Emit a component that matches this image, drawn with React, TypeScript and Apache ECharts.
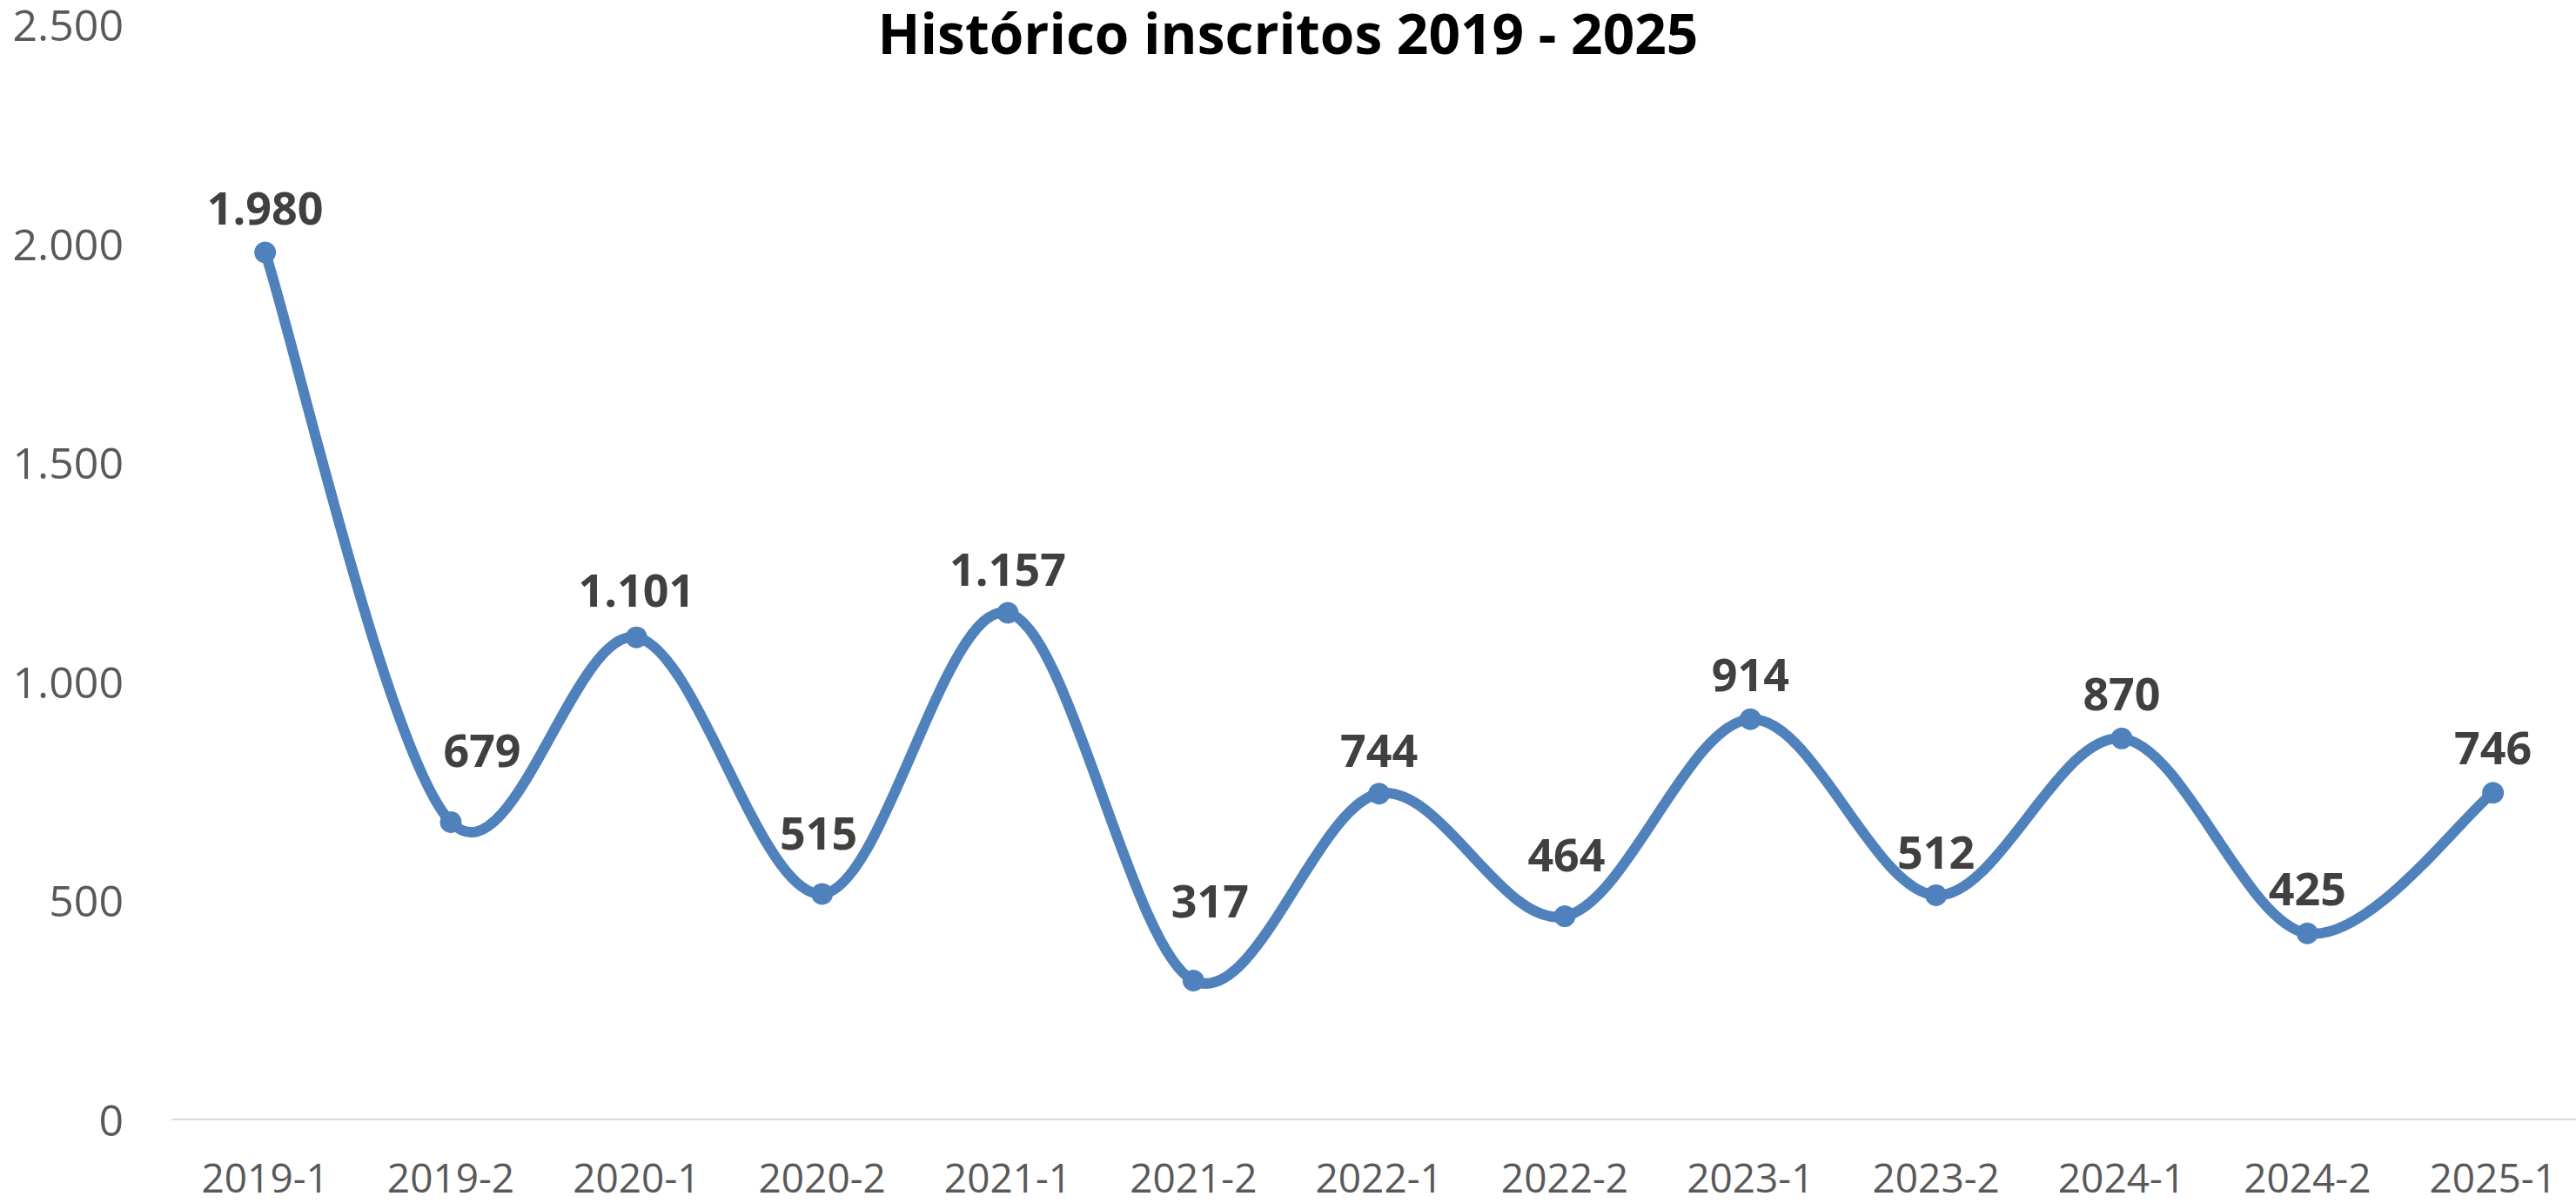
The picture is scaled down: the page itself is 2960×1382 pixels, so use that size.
import React, { useEffect, useRef } from "react";
import * as echarts from "echarts";

const title = "Histórico inscritos 2019 - 2025";
const categories = [
  "2019-1", "2019-2", "2020-1", "2020-2", "2021-1", "2021-2", "2022-1",
  "2022-2", "2023-1", "2023-2", "2024-1", "2024-2", "2025-1",
];
const inscritos = [1980, 679, 1101, 515, 1157, 317, 744, 464, 914, 512, 870, 425, 746];
const yTicks = { min: 0, max: 2500, interval: 500 };

// label placement tweaks (styling only), [dx, dy] relative to each point
const labelOffsets: [number, number][] = [
  [0, -52], [36, -84], [0, -56], [-4, -71], [0, -51], [19, -93], [0, -51],
  [2, -72], [0, -53], [0, -51], [0, -53], [0, -53], [0, -53],
];

const fmt = (v: number) => String(Math.round(v)).replace(/\B(?=(\d{3})+(?!\d))/g, ".");

const LINE_COLOR = "#4f81bd";

export default function App() {
  const ref = useRef<HTMLDivElement>(null);
  useEffect(() => {
    document.body.style.margin = "0";
    document.body.style.overflow = "hidden";
    const chart = echarts.init(ref.current!, null, { renderer: "svg" });
    const font = "'Open Sans', 'Noto Sans', sans-serif";
    const n = inscritos.length;
    chart.setOption({
      animation: false,
      backgroundColor: "#ffffff",
      title: {
        text: title,
        left: "center",
        top: 0,
        textStyle: { fontFamily: font, fontWeight: "bold", fontSize: 64, color: "#000000" },
      },
      grid: { left: 210, width: 2773.3, top: 28.4, bottom: 96, containLabel: false },
      xAxis: {
        type: "category",
        data: categories,
        boundaryGap: true,
        axisLine: { show: true, lineStyle: { color: "#d9d9d9", width: 2 } },
        axisTick: { show: false },
        axisLabel: { fontFamily: font, fontSize: 46, color: "#595959", margin: 43, interval: 0 },
        splitLine: { show: false },
      },
      yAxis: {
        type: "value",
        min: yTicks.min,
        max: yTicks.max,
        interval: yTicks.interval,
        axisLine: { show: false },
        axisTick: { show: false },
        splitLine: { show: false },
        axisLabel: {
          fontFamily: font,
          fontSize: 50,
          color: "#595959",
          margin: 56,
          formatter: (v: number) => fmt(v),
        },
      },
      series: [
        {
          type: "custom",
          data: inscritos.map((v, i) => [i, v]),
          encode: { x: 0, y: 1 },
          z: 1,
          clip: false,
          renderItem: (params: any, api: any) => {
            const i = params.dataIndex;
            if (i >= n - 1) return null;
            const pt = (k: number) => {
              const kk = Math.max(0, Math.min(n - 1, k));
              return api.coord([kk, inscritos[kk]]);
            };
            const p0 = pt(i - 1);
            const p1 = pt(i);
            const p2 = pt(i + 1);
            const p3 = pt(i + 2);
            const f = 1 / 6;
            return {
              type: "bezierCurve",
              shape: {
                x1: p1[0],
                y1: p1[1],
                cpx1: p1[0] + (p2[0] - p0[0]) * f,
                cpy1: p1[1] + (p2[1] - p0[1]) * f,
                cpx2: p2[0] - (p3[0] - p1[0]) * f,
                cpy2: p2[1] - (p3[1] - p1[1]) * f,
                x2: p2[0],
                y2: p2[1],
              },
              style: { stroke: LINE_COLOR, lineWidth: 12, fill: null, lineCap: "round" },
            };
          },
        },
        {
          type: "line",
          z: 3,
          data: inscritos.map((v, i) => ({
            value: v,
            label: { offset: labelOffsets[i] },
          })),
          symbol: "circle",
          symbolSize: 25,
          itemStyle: { color: LINE_COLOR },
          lineStyle: { width: 0, opacity: 0 },
          label: {
            show: true,
            position: "inside",
            verticalAlign: "middle",
            align: "center",
            fontFamily: font,
            fontWeight: "bold",
            fontSize: 52,
            color: "#404040",
            formatter: (p: any) => fmt(p.value),
          },
          clip: false,
        },
      ],
    });
    return () => chart.dispose();
  }, []);
  return (
    <div
      style={{ position: "fixed", left: 0, top: 0, width: 2960, height: 1382, overflow: "hidden", background: "#fff" }}
    >
      <div
        ref={ref}
        style={{ position: "absolute", left: -12, top: 0, width: 2984, height: 1382 }}
      />
    </div>
  );
}
